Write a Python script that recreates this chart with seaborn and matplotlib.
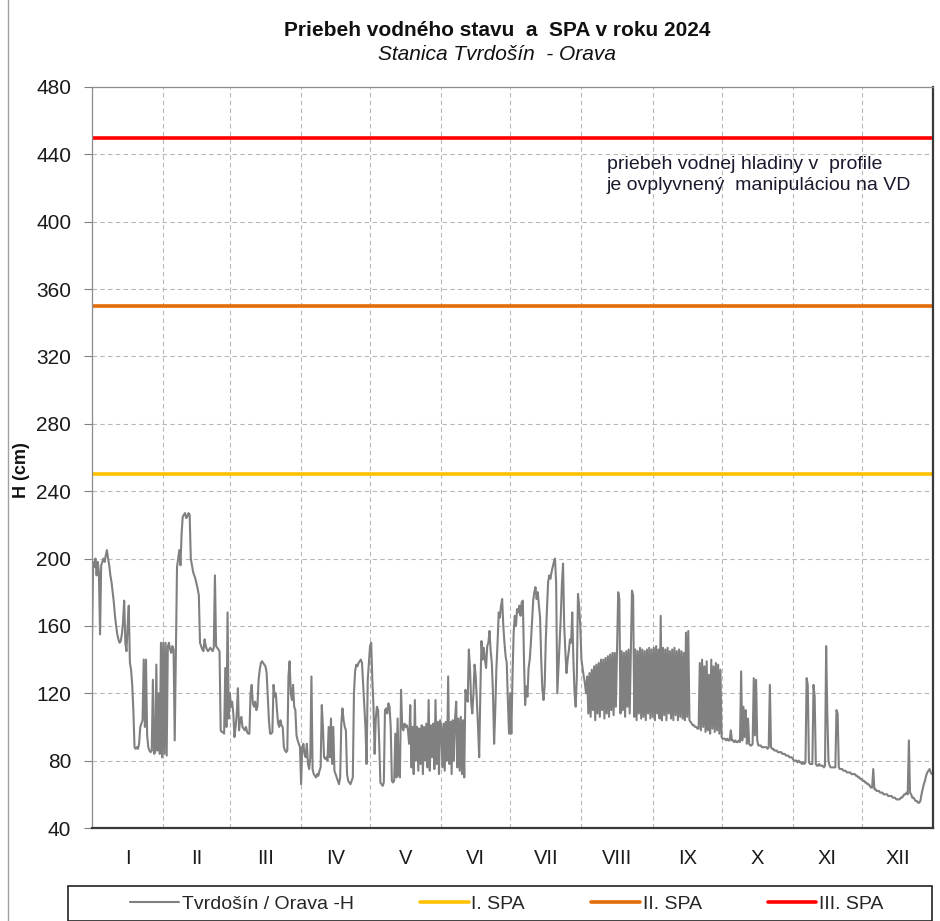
import numpy as np
import pandas as pd
import matplotlib
matplotlib.use("Agg")
import matplotlib.pyplot as plt
import matplotlib.dates as mdates
from matplotlib.ticker import FixedLocator
from matplotlib.lines import Line2D
from matplotlib.patches import Rectangle
import seaborn as sns

# water level H (cm) at half-day steps, one list per month
jan = [152, 198, 195, 200, 190, 198, 192, 155, 196, 198,
       200, 198, 202, 205, 200, 196, 190, 186, 180, 174,
       166, 160, 155, 152, 150, 151, 155, 162, 175, 150,
       145, 160, 172, 138, 134, 125, 110, 88, 87, 88,
       87, 90, 100, 102, 104, 140, 100, 140, 95, 88,
       86, 85, 86, 128, 84, 85, 137, 86, 120, 84,
       150, 82]
feb = [150, 84, 150, 83, 148, 150, 146, 144, 148, 146,
       92, 145, 195, 200, 205, 196, 215, 225, 226, 227,
       224, 225, 227, 226, 200, 196, 192, 190, 188, 185,
       182, 178, 150, 148, 146, 145, 152, 148, 146, 145,
       146, 147, 146, 145, 147, 190, 148, 147, 146, 145,
       98, 97, 97, 96, 135, 100, 168, 105]
mar = [120, 112, 115, 108, 94, 100, 108, 123, 98, 104,
       106, 100, 99, 98, 100, 97, 96, 96, 120, 125,
       114, 112, 115, 110, 112, 128, 134, 138, 139, 138,
       137, 136, 132, 118, 104, 96, 96, 97, 125, 118,
       120, 110, 102, 100, 104, 101, 100, 88, 86, 85,
       86, 130, 139, 120, 116, 125, 112, 110, 95, 92,
       90, 88]
apr = [66, 88, 90, 84, 82, 90, 78, 75, 82, 130,
       75, 72, 71, 70, 72, 71, 74, 76, 113, 100,
       82, 81, 82, 80, 100, 82, 105, 78, 100, 74,
       72, 70, 68, 66, 70, 102, 111, 104, 100, 98,
       72, 68, 67, 66, 68, 70, 120, 133, 137, 136,
       138, 139, 140, 138, 125, 112, 100, 78, 128, 138]
may = [148, 150, 128, 112, 84, 105, 112, 110, 90, 67,
       66, 65, 67, 110, 111, 108, 114, 112, 100, 68,
       67, 68, 96, 70, 105, 72, 70, 122, 100, 98,
       102, 100, 101, 98, 90, 113,
       76, 100, 72, 116, 80, 100, 74, 99, 78, 101,
       72, 100, 80, 102, 76, 116, 74, 101, 82, 102,
       75, 116, 78, 103, 72, 104]
jun = [100, 76, 102, 74, 103, 80, 130, 78, 103, 72,
       104, 80, 105, 115, 76, 105, 74, 106, 72, 104,
       70, 122, 118, 115, 146, 135, 115, 108, 120, 137,
       130, 115, 100, 82, 120, 151, 140, 147, 140, 135,
       148, 150, 157, 145, 138, 120, 90, 110, 135, 150,
       168, 165, 172, 176, 160, 150, 142, 138, 115, 96]
jul = [120, 96, 130, 156, 166, 160, 170, 168, 172, 166,
       174, 175, 140, 113, 124, 118, 135, 140, 150, 162,
       175, 180, 183, 176, 180, 172, 165, 140, 122, 116,
       125, 152, 170, 186, 190, 188, 192, 195, 198, 200,
       185, 120, 135, 150, 165, 185, 197, 160, 145, 132,
       140, 145, 152, 150, 168, 140, 120, 112, 130, 179,
       172, 160]
aug = [140, 135, 130, 126, 120, 130,
       108, 132, 106, 134, 110, 136, 104, 137, 108, 138,
       106, 140, 110, 140, 105, 141, 108, 142, 106, 143,
       110, 144, 107, 144, 112, 145, 180, 176, 108, 145,
       110, 144, 106, 145, 112, 146, 108, 145, 181, 178,
       106, 146, 104, 145, 108, 147, 105, 146, 106, 145,
       104, 146, 108, 147, 105, 146]
sep = [106, 147, 104, 148, 108, 146, 105, 166, 104, 147,
       107, 146, 104, 147, 108, 145, 105, 146, 104, 147,
       107, 145, 104, 146, 106, 145, 105, 144, 104, 156,
       106, 157, 104, 103, 102, 101, 101, 100, 100, 99,
       99, 138, 98, 140, 100, 136, 97, 139, 98, 131,
       96, 140, 99, 136, 97, 138, 98, 137, 96, 134]
oct_ = [94, 93, 93, 93, 92, 93, 92, 92, 98, 92,
        92, 91, 92, 91, 91, 92, 91, 133, 92, 112,
        94, 110, 90, 105, 90, 89, 89, 90, 129, 95,
        128, 92, 89, 89, 89, 88, 88, 88, 88, 88,
        87, 88, 125, 88, 87, 87, 86, 86, 86, 85,
        85, 85, 85, 84, 84, 84, 83, 83, 83, 82,
        82, 82]
nov = [81, 80, 80, 80, 79, 80, 79, 79, 78, 79,
       78, 79, 129, 125, 79, 78, 78, 78, 125, 118,
       78, 77, 77, 78, 77, 77, 77, 76, 77, 148,
       108, 80, 77, 76, 76, 76, 76, 76, 110, 108,
       76, 75, 75, 75, 74, 74, 74, 73, 73, 73,
       73, 72, 72, 72, 72, 71, 71, 70, 70, 69]
dec = [69, 68, 68, 67, 67, 66, 66, 65, 64, 64,
       75, 63, 63, 62, 62, 62, 61, 61, 61, 60,
       60, 60, 60, 59, 59, 59, 59, 58, 58, 58,
       57, 57, 57, 57, 58, 58, 59, 60, 60, 61,
       60, 92, 61, 60, 58, 58, 57, 56, 56, 55,
       55, 56, 60, 63, 66, 68, 71, 73, 74, 75,
       73, 72]

months_h = [jan, feb, mar, apr, may, jun, jul, aug, sep, oct_, nov, dec]
month_names = ["I", "II", "III", "IV", "V", "VI",
               "VII", "VIII", "IX", "X", "XI", "XII"]

# flood activity levels (SPA)
spa_levels = [250, 350, 450]
spa_names = ["I. SPA", "II. SPA", "III. SPA"]
spa_colors = ["#FFC000", "#E46C0A", "#FF0000"]

# build the time series
times, levels = [], []
for m, vals in enumerate(months_h, start=1):
    start = pd.Timestamp(2024, m, 1)
    times.extend(start + pd.to_timedelta(np.arange(len(vals)) * 12, unit="h"))
    levels.extend(vals)
df = pd.DataFrame({"time": times, "H": levels})

sns.set_theme(style="white")
plt.rcParams["font.family"] = ["Liberation Sans", "DejaVu Sans"]

W, H = 940, 921
fig = plt.figure(figsize=(W / 100, H / 100), dpi=100)
ax = fig.add_axes([92 / W, 1 - 828 / H, (933 - 92) / W, (828 - 87) / H])

sns.lineplot(data=df, x="time", y="H", ax=ax, color="#808080", lw=1.5,
             estimator=None, label="Tvrdošín / Orava -H")
for lvl, name, col in zip(spa_levels, spa_names, spa_colors):
    ax.axhline(lvl, color=col, lw=2.6, label=name)

month_starts = pd.date_range("2024-01-01", periods=13, freq="MS")
mids = month_starts[:-1] + (month_starts[1:] - month_starts[:-1]) / 2

ax.set_xlim(month_starts[0], month_starts[-1])
ax.set_ylim(40, 480)
ax.set_yticks(range(40, 481, 40))
ax.xaxis.set_major_locator(FixedLocator(mdates.date2num(month_starts)))
ax.xaxis.set_major_formatter(plt.NullFormatter())
ax.set_xticks(mdates.date2num(mids), month_names, minor=True)
ax.tick_params(axis="x", which="both", length=0, pad=15, labelsize=14.5,
               labelcolor="#1a1a1a")
ax.tick_params(axis="y", direction="out", length=6, width=0.8, color="#808080",
               pad=9, labelsize=15, labelcolor="#1a1a1a", left=True)
ax.grid(True, which="major", ls=(0, (4, 3)), color="#b8b8b8", lw=0.8)
ax.set_xlabel("")
ax.set_ylabel("")

for side in ["left", "top"]:
    ax.spines[side].set_color("#8c8c8c")
    ax.spines[side].set_linewidth(0.9)
for side in ["bottom", "right"]:
    ax.spines[side].set_color("#3a3a3a")
    ax.spines[side].set_linewidth(1.6)

ax.text(607 / W * W / (933 - 92) - 92 / (933 - 92), (828 - 175) / (828 - 87),
        "priebeh vodnej hladiny v  profile\nje ovplyvnený  manipuláciou na VD",
        transform=ax.transAxes, ha="left", va="center", fontsize=14,
        color="#1a1a2e", linespacing=1.25)

fig.text(497 / W, 1 - 30 / H, "Priebeh vodného stavu  a  SPA v roku 2024",
         ha="center", va="center", fontsize=15, fontweight="bold", color="#111111")
fig.text(497 / W, 1 - 55 / H, "Stanica Tvrdošín  - Orava", ha="center",
         va="center", fontsize=15, style="italic", color="#111111")
fig.text(22 / W, 1 - 470 / H, "H (cm)", rotation=90, ha="center", va="center",
         fontsize=13, fontweight="bold", color="#111111")

# legend in a wide box under the chart
ax.get_legend().remove()
handles = [Line2D([], [], color="#808080", lw=1.5)] + \
          [Line2D([], [], color=c, lw=2.6) for c in spa_colors]
labels = ["Tvrdošín / Orava -H"] + spa_names
fig.legend(handles, labels, ncol=4, loc="center", bbox_to_anchor=(507 / W, 1 - 904 / H),
           frameon=False, fontsize=14, handlelength=2.5, handletextpad=0.15,
           columnspacing=3.4)
fig.patches.append(Rectangle((68 / W, 0.5 / H), (932 - 68) / W, (921 - 886) / H,
                             transform=fig.transFigure, fill=False,
                             edgecolor="#222222", lw=1.2))
fig.lines.append(Line2D([8 / W, 8 / W], [0, 1], transform=fig.transFigure,
                        color="#a0a0a0", lw=1))

fig.savefig("out.png", dpi=100)
